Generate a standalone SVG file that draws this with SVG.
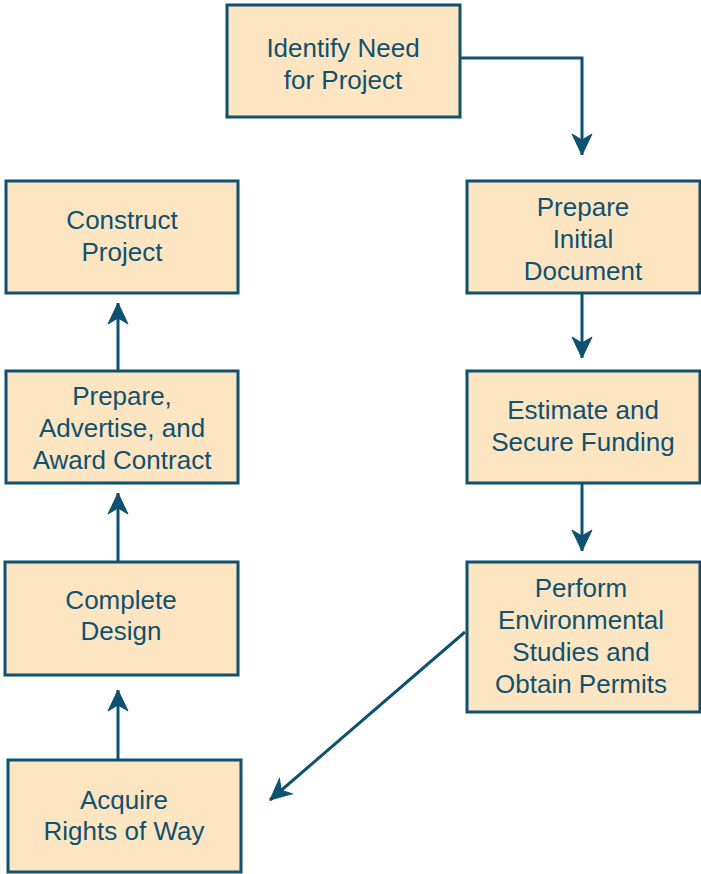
<svg xmlns="http://www.w3.org/2000/svg" width="701" height="874" viewBox="0 0 701 874">
<style>
.box{fill:#fde5c1;stroke:#0f5170;stroke-width:3}
.t{font-family:"Liberation Sans",Arial,sans-serif;font-size:26px;fill:#0f5170;text-anchor:middle}
.c{fill:none;stroke:#0f5170;stroke-width:3}
</style>
<defs>
<marker id="ah" markerUnits="userSpaceOnUse" markerWidth="22" markerHeight="22" viewBox="0 -11 22 22" refX="21" refY="0" orient="auto" overflow="visible">
<path d="M0,-10 L21,0 L0,10 L6,0 Z" fill="#0f5170" stroke="#0f5170" stroke-width="1" stroke-linejoin="miter"/>
</marker>
</defs>
<rect width="701" height="874" fill="#ffffff"/>
<g id="connectors">
<path class="c" d="M460,58 H582 V155" marker-end="url(#ah)"/>
<path class="c" d="M582,293 V358" marker-end="url(#ah)"/>
<path class="c" d="M582,483 V551" marker-end="url(#ah)"/>
<path class="c" d="M465,632 L270,800" marker-end="url(#ah)"/>
<path class="c" d="M118,760 V690" marker-end="url(#ah)"/>
<path class="c" d="M118,562 V493" marker-end="url(#ah)"/>
<path class="c" d="M118,371 V303" marker-end="url(#ah)"/>
</g>
<g id="identify">
<rect class="box" x="227" y="5" width="233" height="112"/>
<text class="t" x="343" y="57">Identify Need</text>
<text class="t" x="343" y="89">for Project</text>
</g>
<g id="prepare-initial">
<rect class="box" x="467" y="181" width="233" height="112"/>
<text class="t" x="583" y="216">Prepare</text>
<text class="t" x="583" y="248">Initial</text>
<text class="t" x="583" y="280">Document</text>
</g>
<g id="estimate">
<rect class="box" x="467" y="371" width="233" height="112"/>
<text class="t" x="583" y="419">Estimate and</text>
<text class="t" x="583" y="451">Secure Funding</text>
</g>
<g id="perform">
<rect class="box" x="467" y="562" width="233" height="150"/>
<text class="t" x="581" y="597">Perform</text>
<text class="t" x="581" y="629">Environmental</text>
<text class="t" x="581" y="661">Studies and</text>
<text class="t" x="581" y="693">Obtain Permits</text>
</g>
<g id="acquire">
<rect class="box" x="8" y="760" width="233" height="112"/>
<text class="t" x="124" y="809">Acquire</text>
<text class="t" x="124" y="840">Rights of Way</text>
</g>
<g id="complete">
<rect class="box" x="5" y="562" width="233" height="113"/>
<text class="t" x="121" y="609">Complete</text>
<text class="t" x="121" y="640">Design</text>
</g>
<g id="award">
<rect class="box" x="6" y="371" width="232" height="112"/>
<text class="t" x="122" y="405">Prepare,</text>
<text class="t" x="122" y="437">Advertise, and</text>
<text class="t" x="122" y="469">Award Contract</text>
</g>
<g id="construct">
<rect class="box" x="6" y="181" width="232" height="112"/>
<text class="t" x="122" y="229">Construct</text>
<text class="t" x="122" y="261">Project</text>
</g>
</svg>
